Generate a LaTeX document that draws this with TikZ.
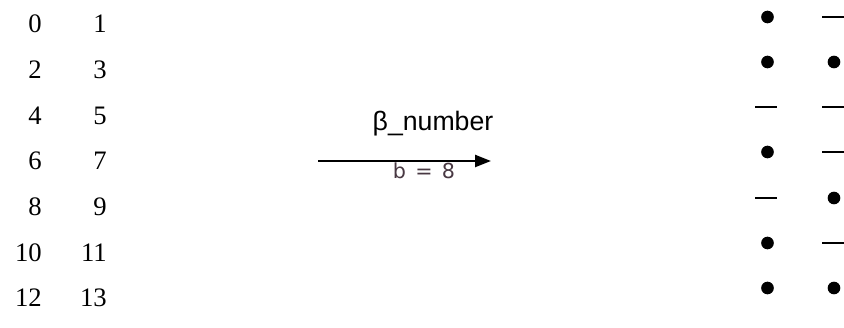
\documentclass[tikz,border=0pt]{standalone}
\usepackage{fontspec}
\setmainfont{Liberation Serif}
\newfontfamily\arialfont{Liberation Sans}
\newfontfamily\smallfont{DejaVu Sans}
\usetikzlibrary{arrows.meta}
\definecolor{bcol}{RGB}{72,56,66}
\tikzset{
  numtext/.style={anchor=east, inner sep=0pt, font=\fontsize{20pt}{24pt}\selectfont},
  dotmark/.style={circle, fill=black, inner sep=0pt, minimum size=9.5pt},
  dashmark/.style={rectangle, fill=black, inner sep=0pt, minimum width=16.5pt, minimum height=1.8pt},
  arrowline/.style={line width=1.8pt, -{Triangle[length=12pt,width=9pt]}},
  biglabel/.style={inner sep=0pt, font=\arialfont\fontsize{20pt}{24pt}\selectfont},
  smalllabel/.style={inner sep=0pt, text=bcol, font=\smallfont\fontsize{15.5pt}{18pt}\selectfont}
}
\begin{document}
\begin{tikzpicture}[x=0.75pt,y=-0.75pt]
\useasboundingbox (0,0) rectangle (844,328);
% left numbers
\node[numtext] (n0) at (42,24) {0};
\node[numtext] (n1) at (107,24) {1};
\node[numtext] (n2) at (42,70) {2};
\node[numtext] (n3) at (107,70) {3};
\node[numtext] (n4) at (42,116) {4};
\node[numtext] (n5) at (107,116) {5};
\node[numtext] (n6) at (42,161) {6};
\node[numtext] (n7) at (107,161) {7};
\node[numtext] (n8) at (42,207) {8};
\node[numtext] (n9) at (107,207) {9};
\node[numtext] (n10) at (42,253) {10};
\node[numtext] (n11) at (107,253) {11};
\node[numtext] (n12) at (42,298) {12};
\node[numtext] (n13) at (107,298) {13};
% arrow
\coordinate (as) at (318,161);
\coordinate (ae) at (491,161);
\draw[arrowline] (as) -- (ae);
\node[biglabel] (lbl) at (433,124) {β\_number};
\node[smalllabel] (bl) at (424,171) {b\hspace{0.45em}=\hspace{0.45em}8};
% right pattern
\node[dotmark] (r1a) at (767.5,17) {};
\node[dashmark] (r1b) at (832.5,17) {};
\node[dotmark] (r2a) at (767.5,62) {};
\node[dotmark] (r2b) at (834,62) {};
\node[dashmark] (r3a) at (766,107) {};
\node[dashmark] (r3b) at (832.5,107) {};
\node[dotmark] (r4a) at (767.5,152) {};
\node[dashmark] (r4b) at (832.5,152) {};
\node[dashmark] (r5a) at (766,198) {};
\node[dotmark] (r5b) at (834,198) {};
\node[dotmark] (r6a) at (767.5,243) {};
\node[dashmark] (r6b) at (832.5,243) {};
\node[dotmark] (r7a) at (767.5,288) {};
\node[dotmark] (r7b) at (834,288) {};
\end{tikzpicture}
\end{document}
